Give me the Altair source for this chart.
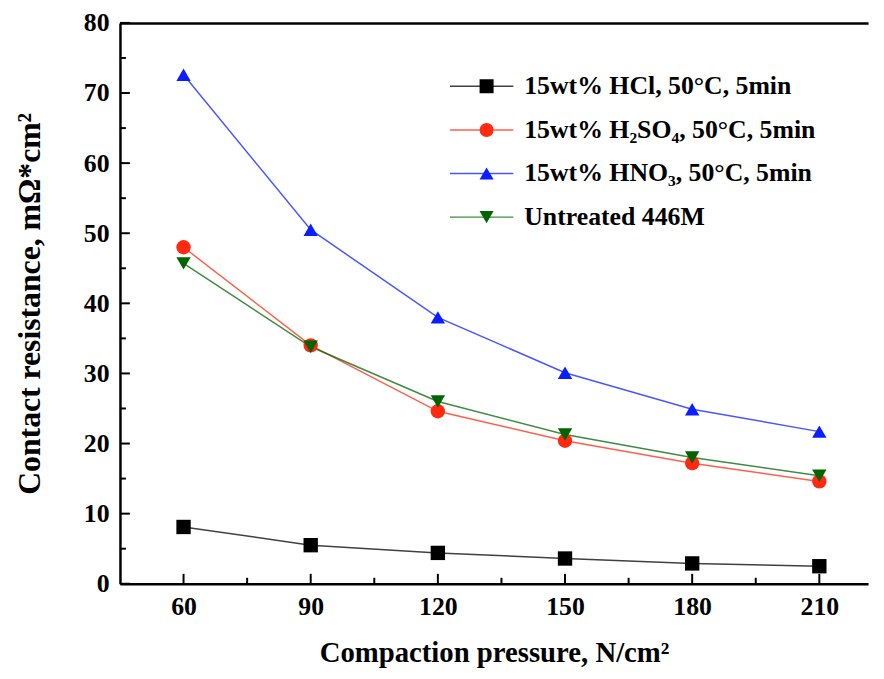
import altair as alt
import pandas as pd

pressure = [60, 90, 120, 150, 180, 210]
series_names = [
    "15wt% HCl, 50°C, 5min",
    "15wt% H₂SO₄, 50°C, 5min",
    "15wt% HNO₃, 50°C, 5min",
    "Untreated 446M",
]
hcl = [8.1, 5.5, 4.4, 3.6, 2.9, 2.5]
h2so4 = [48.0, 34.0, 24.6, 20.4, 17.2, 14.6]
hno3 = [72.6, 50.5, 38.0, 30.1, 24.9, 21.7]
untreated = [45.7, 33.8, 26.0, 21.3, 18.0, 15.4]

x_major = [60, 90, 120, 150, 180, 210]
x_minor = [75, 105, 135, 165, 195]
y_major = [0, 10, 20, 30, 40, 50, 60, 70, 80]
y_minor = [5, 15, 25, 35, 45, 55, 65, 75]

rows = []
for name, vals in zip(series_names, [hcl, h2so4, hno3, untreated]):
    for p, v in zip(pressure, vals):
        rows.append({"pressure": p, "resistance": v, "series": name})
df = pd.DataFrame(rows)

FONT = "Liberation Serif"
W, H = 755, 566
color_scale = alt.Scale(domain=series_names, range=["#000000", "#ff2a10", "#0a1eff", "#006400"])
shape_scale = alt.Scale(domain=series_names, range=["square", "circle", "triangle-up", "triangle-down"])
xs = alt.Scale(domain=[45, 221.5], nice=False, zero=False)
ys = alt.Scale(domain=[0, 80], nice=False, zero=False)

common_label = dict(labelFont=FONT, labelFontSize=26, labelFontWeight="bold", labelColor="black")

x_axis_main = alt.Axis(values=x_major, orient="bottom", ticks=False, domain=True,
                       domainColor="black", domainWidth=2.5, grid=False, labelPadding=10,
                       title="Compaction pressure, N/cm²", titlePadding=19,
                       titleFont=FONT, titleFontSize=29, titleFontWeight="bold", titleColor="black",
                       **common_label)
y_axis_main = alt.Axis(values=y_major, orient="left", ticks=False, domain=True,
                       domainColor="black", domainWidth=2.5, grid=False, labelPadding=11,
                       title="Contact resistance, mΩ*cm²", titlePadding=37,
                       titleFont=FONT, titleFontSize=32, titleFontWeight="bold", titleColor="black",
                       **common_label)
x_axis_top = alt.Axis(orient="top", domain=True, domainColor="black", domainWidth=2.5,
                      ticks=False, labels=False, grid=False, title=None)

legend_common = dict(orient="none", legendY=54, title=None, clipHeight=20, rowPadding=18,
                     labelFont=FONT, labelFontSize=26, labelFontWeight="bold", labelColor="black",
                     labelLimit=600, padding=0)

lines = alt.Chart(df).mark_line(strokeWidth=1.5, strokeOpacity=0.75).encode(
    x=alt.X("pressure:Q", scale=xs, axis=x_axis_main),
    y=alt.Y("resistance:Q", scale=ys, axis=y_axis_main),
    color=alt.Color("series:N", scale=color_scale, sort=series_names,
                    legend=alt.Legend(legendX=332, symbolType="stroke", symbolSize=4096,
                                      symbolStrokeWidth=1.5, symbolOpacity=0.75,
                                      labelOffset=10, **legend_common)),
)

pt_legend = alt.Legend(legendX=357, symbolSize=200, labelOffset=10, labelExpr="''", **legend_common)
points = alt.Chart(df).mark_point(filled=True, size=210, opacity=1).encode(
    x=alt.X("pressure:Q", scale=xs, axis=None),
    y=alt.Y("resistance:Q", scale=ys, axis=None),
    color=alt.Color("series:N", scale=color_scale, sort=series_names, legend=pt_legend),
    shape=alt.Shape("series:N", scale=shape_scale, sort=series_names, legend=pt_legend),
)

frame_top = alt.Chart(df).mark_point(opacity=0).encode(
    x=alt.X("pressure:Q", scale=xs, axis=x_axis_top),
    y=alt.Y("resistance:Q", scale=ys, axis=None),
)

# inward tick marks, positioned through the data scales
xt_major = alt.Chart(pd.DataFrame({"v": x_major})).mark_rule(color="black", strokeWidth=2).encode(
    x=alt.X("v:Q", scale=xs, axis=None), y=alt.value(H), y2=alt.value(H - 10))
xt_minor = alt.Chart(pd.DataFrame({"v": x_minor})).mark_rule(color="black", strokeWidth=2).encode(
    x=alt.X("v:Q", scale=xs, axis=None), y=alt.value(H), y2=alt.value(H - 6))
yt_major = alt.Chart(pd.DataFrame({"v": y_major})).mark_rule(color="black", strokeWidth=2).encode(
    y=alt.Y("v:Q", scale=ys, axis=None), x=alt.value(0), x2=alt.value(10))
yt_minor = alt.Chart(pd.DataFrame({"v": y_minor})).mark_rule(color="black", strokeWidth=2).encode(
    y=alt.Y("v:Q", scale=ys, axis=None), x=alt.value(0), x2=alt.value(6))

chart = alt.layer(frame_top, xt_major, xt_minor, yt_major, yt_minor, lines, points).resolve_axis(
    x="independent", y="independent"
).resolve_legend(
    color="independent", shape="independent"
).properties(
    width=W, height=H,
    padding={"left": 113, "top": 12, "right": 8, "bottom": 85},
    autosize=alt.AutoSizeParams(type="none"),
    background="white",
).configure_view(stroke=None)

chart.save("out.html", embed_options={"renderer": "svg", "actions": False})
